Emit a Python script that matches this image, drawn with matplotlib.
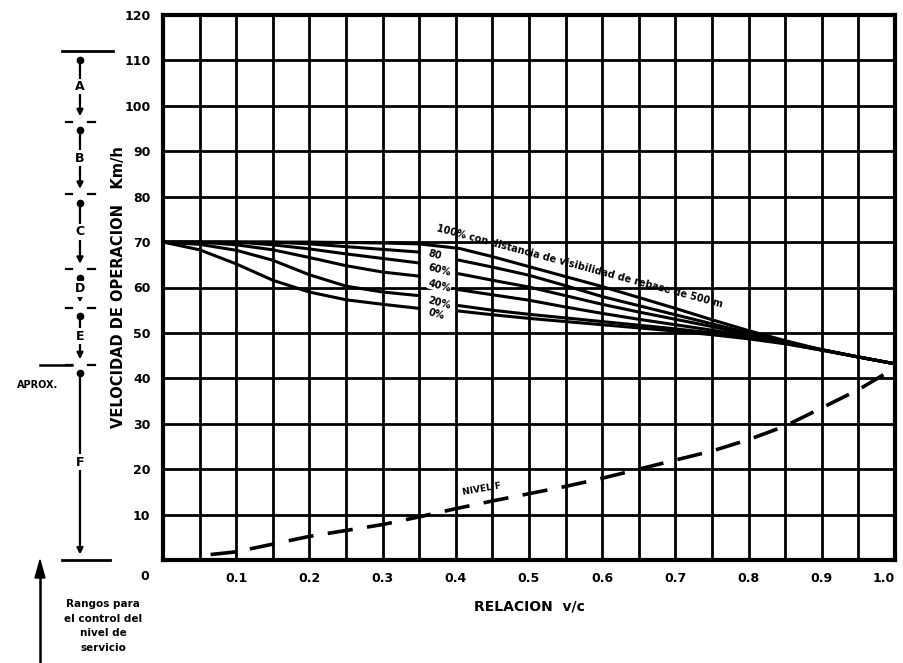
import matplotlib.pyplot as plt
import numpy as np

# v/c ratio and operating speed (km/h) for each % of passing sight distance
x_left = [0, 0.05, 0.10, 0.15, 0.20, 0.25, 0.30, 0.35]
x_right = [0.405, 0.45, 0.50, 0.55, 0.60, 0.65, 0.70, 0.75, 0.80, 0.85, 0.90, 0.95, 1.00]

v100_left = [70, 70, 70, 70, 70, 69.9, 69.8, 69.6]
v100_right = [68.6, 66.8, 64.6, 62.4, 60.2, 57.8, 55.4, 52.9, 50.5, 48.3, 46.3, 44.7, 43.2]
v80_left = [70, 70, 70, 70, 69.6, 69.0, 68.4, 67.8]
v80_right = [66.0, 64.5, 62.7, 60.4, 58.0, 56.0, 54.0, 52.0, 50.0, 48.0, 46.3, 44.7, 43.2]
v60_left = [70, 70, 70, 69.4, 68.5, 67.4, 66.4, 65.4]
v60_right = [63.0, 61.6, 60.1, 58.2, 56.3, 54.6, 53.0, 51.4, 49.6, 47.9, 46.3, 44.7, 43.2]
v40_left = [70, 70, 69.4, 68.3, 66.6, 64.8, 63.4, 62.5]
v40_right = [59.5, 58.4, 57.2, 55.7, 54.3, 53.0, 51.8, 50.6, 49.3, 47.8, 46.3, 44.7, 43.2]
v20_left = [70, 69.5, 68.2, 66.0, 62.8, 60.3, 59.0, 58.2]
v20_right = [56.0, 55.0, 54.1, 53.3, 52.5, 51.7, 50.9, 50.0, 49.0, 47.7, 46.2, 44.7, 43.2]
v0_left = [70, 68.3, 65.2, 61.6, 59.0, 57.3, 56.3, 55.4]
v0_right = [54.8, 54.0, 53.2, 52.5, 51.8, 51.1, 50.4, 49.6, 48.7, 47.6, 46.2, 44.7, 43.2]

curve_labels = ["80", "60%", "40%", "20%", "0%"]
curve_label_y = [67.6, 64.4, 61.0, 57.3, 54.5]

# level F boundary (dashed)
xf = [0.065, 0.10, 0.15, 0.20, 0.25, 0.30, 0.35, 0.40, 0.45, 0.50, 0.55, 0.60,
      0.65, 0.70, 0.75, 0.80, 0.85, 0.90, 0.95, 1.00]
yf = [1.2, 1.8, 3.5, 5.2, 6.5, 7.8, 9.5, 11.3, 13.0, 14.6, 16.2, 18.0,
      20.0, 22.0, 24.0, 26.5, 29.5, 33.5, 37.5, 42.3]

# service level ranges on the left
levels = ["A", "B", "C", "D", "E", "F"]
level_bounds = [112, 96.5, 80.5, 64, 55.5, 43, 0]

x_ticks = [0.1, 0.2, 0.3, 0.4, 0.5, 0.6, 0.7, 0.8, 0.9, 1.0]
x_ticklabels = ["0.1", "0.2", "0.3", "0.4", "0.5", "0.6", "0.7", "0.8", "0.9", "1.0"]
y_ticks = [10, 20, 30, 40, 50, 60, 70, 80, 90, 100, 110, 120]

plt.rcParams['font.family'] = 'DejaVu Sans'
plt.rcParams['font.weight'] = 'bold'
plt.rcParams['axes.labelweight'] = 'bold'

fig = plt.figure(figsize=(9.04, 6.63), dpi=100)
ax = fig.add_axes([163/904, 1 - 560/663, 732/904, 545/663])
ax.set_xlim(0, 1.0)
ax.set_ylim(0, 120)

# grid
for gx in np.arange(0.05, 1.0, 0.05):
    ax.axvline(gx, color='k', lw=2.0, zorder=1)
for gy in range(10, 120, 10):
    ax.axhline(gy, color='k', lw=2.0, zorder=1)
for s in ax.spines.values():
    s.set_linewidth(3)

lw = 2.2
ax.plot(x_left + x_right, v100_left + v100_right, color='k', lw=lw, zorder=3)
for yl, yr in [(v80_left, v80_right), (v60_left, v60_right), (v40_left, v40_right),
               (v20_left, v20_right), (v0_left, v0_right)]:
    ax.plot(x_left, yl, color='k', lw=lw, zorder=3)
    ax.plot(x_right, yr, color='k', lw=lw, zorder=3)

ax.plot(xf, yf, color='k', lw=2.6, dashes=(7, 4), zorder=3)

# curve labels
ax.text(0.372, 72.0, "100% con distancia de visibilidad de rebase de 500 m",
        fontsize=7, rotation=-15, rotation_mode='anchor', ha='left', va='bottom', zorder=4)
for lab, ly in zip(curve_labels, curve_label_y):
    ax.text(0.362, ly, lab, fontsize=7, rotation=-15, rotation_mode='anchor',
            ha='left', va='center', zorder=4,
            bbox=dict(facecolor='white', edgecolor='none', pad=0.2))
ax.text(0.41, 13.9, "NIVEL F", fontsize=6.5, rotation=10, rotation_mode='anchor',
        ha='left', va='bottom', zorder=4)

# ticks
ax.set_xticks(x_ticks)
ax.set_xticklabels(x_ticklabels)
ax.set_yticks(y_ticks)
ax.set_yticklabels([str(v) for v in y_ticks])
ax.tick_params(length=0, labelsize=9, pad=9)
ax.get_xticklabels()[-1].set_ha('right')
ax.text(-0.025, -0.03, "0", transform=ax.transAxes, fontsize=9, ha='center', va='center')
ax.set_xlabel("RELACION  v/c", fontsize=10, labelpad=10)
ax.set_ylabel("VELOCIDAD DE OPERACION   Km/h", fontsize=10.5)
ax.yaxis.set_label_coords(-0.05, 0.5)

# left side: service level ranges
tr = ax.get_yaxis_transform()
xa = -0.1134
ax.plot([-0.138, -0.068], [level_bounds[0]] * 2, transform=tr, color='k', lw=2, clip_on=False)
ax.plot([-0.138, -0.072], [0, 0], transform=tr, color='k', lw=2, clip_on=False)
for b in level_bounds[1:-1]:
    ax.plot([-0.133, -0.124], [b, b], transform=tr, color='k', lw=1.6, clip_on=False)
    ax.plot([-0.103, -0.093], [b, b], transform=tr, color='k', lw=1.6, clip_on=False)
ax.plot([-0.168, -0.124], [level_bounds[5]] * 2, transform=tr, color='k', lw=1.8, clip_on=False)
for i, lev in enumerate(levels):
    hi, lo = level_bounds[i], level_bounds[i + 1]
    ax.annotate("", xy=(xa, lo + 0.6), xytext=(xa, hi - 1.6), xycoords=tr, textcoords=tr,
                arrowprops=dict(arrowstyle='-|>', lw=1.6, color='k', mutation_scale=9),
                annotation_clip=False)
    ax.plot([xa], [hi - 1.8], 'o', color='k', ms=4.5, transform=tr, clip_on=False)
    ax.text(xa, (hi + lo) / 2, lev, transform=tr, fontsize=9, ha='center', va='center',
            bbox=dict(facecolor='white', edgecolor='none', pad=1.0), zorder=5)
ax.text(-0.172, 38.5, "APROX.", transform=tr, fontsize=7, ha='center', va='center')

fig.text(103/904, 1 - 626/663, "Rangos para\nel control del\nnivel de\nservicio",
         fontsize=7.5, ha='center', va='center', linespacing=1.55)
fig.add_artist(plt.Line2D([40/904, 40/904], [0, 1 - 572/663], color='k', lw=1.8))
fig.add_artist(plt.Polygon([[35/904, 1 - 578/663], [45/904, 1 - 578/663], [40/904, 1 - 560/663]],
                           closed=True, color='k'))

fig.savefig("out.png", dpi=100)
